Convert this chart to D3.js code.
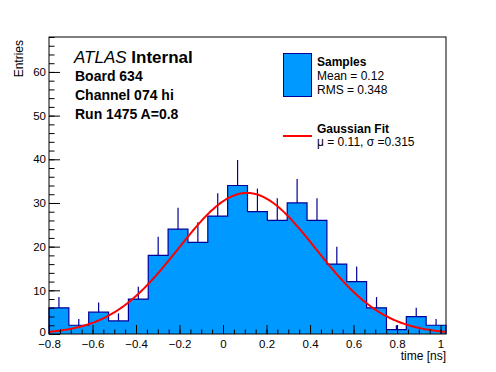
<!DOCTYPE html>
<html><head><meta charset="utf-8">
<script src="https://cdn.jsdelivr.net/npm/d3@7/dist/d3.min.js"></script>
<style>
body{margin:0;background:#fff}
svg{display:block}
text{font-family:"Liberation Sans",Arial,Helvetica,sans-serif;fill:#000}
</style>
</head><body>
<svg id="c" width="496" height="372"></svg>
<script>
// ---- data ----
const xRange = [-0.8, 1.025];
const yRange = [0, 68];
const counts = [6, 2, 5, 3, 8, 18, 24, 21, 27, 34, 28, 26, 30, 26, 16, 12, 6, 1, 4, 2];
const errors = [2.45, 1.41, 2.24, 1.73, 2.83, 4.24, 4.90, 4.58, 5.20, 5.83, 5.29, 5.10, 5.48, 5.10, 4.00, 3.46, 2.45, 1.00, 2.00, 1.41];
const xTickLabels = [-0.8, -0.6, -0.4, -0.2, 0, 0.2, 0.4, 0.6, 0.8, 1];
const yTickLabels = [0, 10, 20, 30, 40, 50, 60];
const fitParams = [32.3, 0.11, 0.315]; // constant, mu, sigma
const infoLines = ["Board 634", "Channel 074 hi", "Run 1475 A=0.8"];
const legendSamples = ["Samples", "Mean = 0.12", "RMS = 0.348"];
const legendFit = ["Gaussian Fit", "\u03bc = 0.11, \u03c3 =0.315"];

// ---- layout ----
const W = 496, H = 372;
const m = {l: 49, r: 50, t: 37, b: 38};
const pw = W - m.l - m.r, ph = H - m.t - m.b;
const fillCol = "#0099ff", lineCol = "#000099", red = "#ff0000";

const svg = d3.select("#c");
const g = svg.append("g").attr("transform", `translate(${m.l},${m.t})`);

const x = d3.scaleLinear().domain(xRange).range([0, pw]);
const y = d3.scaleLinear().domain(yRange).range([ph, 0]);

const nb = counts.length;
const bw = (xRange[1] - xRange[0]) / nb;
const bins = counts.map((c, i) => ({x0: xRange[0] + i * bw, x1: xRange[0] + (i + 1) * bw, c, e: errors[i]}));

// step points
const stepPts = [];
stepPts.push([xRange[0], 0]);
bins.forEach(d => { stepPts.push([d.x0, d.c]); stepPts.push([d.x1, d.c]); });
stepPts.push([xRange[1], 0]);
const stepLine = d3.line().x(p => x(p[0])).y(p => y(p[1]));

// fill as one shape
g.append("path").attr("d", stepLine(stepPts) + "Z").attr("fill", fillCol).attr("stroke", "none");

// error bars (upper part)
g.selectAll("line.err").data(bins).join("line")
  .attr("x1", d => x((d.x0 + d.x1) / 2)).attr("x2", d => x((d.x0 + d.x1) / 2))
  .attr("y1", d => y(d.c)).attr("y2", d => y(d.c + d.e))
  .attr("stroke", lineCol).attr("stroke-width", 1.2);

// outline
g.append("path").attr("d", stepLine(stepPts))
  .attr("fill", "none").attr("stroke", lineCol).attr("stroke-width", 1.2);

// gaussian fit
const [A, mu, sg] = fitParams;
const gauss = t => A * Math.exp(-0.5 * ((t - mu) / sg) ** 2);
const fx = d3.range(0, 301).map(i => xRange[0] + i * (xRange[1] - xRange[0]) / 300);
g.append("path")
  .attr("d", d3.line().x(t => x(t)).y(t => y(gauss(t)))(fx))
  .attr("fill", "none").attr("stroke", red).attr("stroke-width", 2);

// axes
const fmt = v => (v < 0 ? "\u2212" : "") + d3.format("")(Math.abs(v));
const xMinor = d3.range(-0.8, 1.0251, 0.05).map(v => +v.toFixed(3));
const yMinor = d3.range(0, 69, 2);

const xAxMin = g.append("g").attr("transform", `translate(0,${ph})`)
  .call(d3.axisBottom(x).tickValues(xMinor).tickSize(-4.5).tickFormat(""));
const xAx = g.append("g").attr("transform", `translate(0,${ph})`)
  .call(d3.axisBottom(x).tickValues(xTickLabels).tickSize(-9).tickPadding(4).tickFormat(fmt));
const yAxMin = g.append("g")
  .call(d3.axisLeft(y).tickValues(yMinor).tickSize(-5.5).tickFormat(""));
const yAx = g.append("g")
  .call(d3.axisLeft(y).tickValues(yTickLabels).tickSize(-11).tickPadding(3).tickFormat(fmt));
[xAxMin, xAx, yAxMin, yAx].forEach(a => {
  a.select(".domain").remove();
  a.selectAll("line").attr("stroke", "#000").attr("stroke-width", 1);
});
xAx.selectAll("text").attr("font-size", 11.5).attr("dy", null).attr("y", 0)
  .attr("transform", "translate(0,14)");
yAx.selectAll("text").attr("font-size", 11.5);
yAx.selectAll("text").filter(d => d === 0).attr("dy", "0.1em");

// frame
g.append("rect").attr("x", 0).attr("y", 0).attr("width", pw).attr("height", ph)
  .attr("fill", "none").attr("stroke", "#000").attr("stroke-width", 1);

// axis titles
svg.append("text").attr("x", W - m.r).attr("y", 360).attr("text-anchor", "end")
  .attr("font-size", 12).text("time [ns]");
svg.append("text").attr("transform", "translate(23,40) rotate(-90)")
  .attr("text-anchor", "end").attr("font-size", 12).text("Entries");

// ATLAS label
const at = svg.append("text").attr("x", 74).attr("y", 63).attr("font-size", 17);
at.append("tspan").attr("font-style", "italic").text("ATLAS");
at.append("tspan").attr("font-weight", "bold").text(" Internal");
svg.selectAll("text.info").data(infoLines).join("text")
  .attr("x", 75).attr("y", (d, i) => 81 + i * 19.2)
  .attr("font-size", 14).attr("font-weight", "bold").text(d => d);

// legend
svg.append("rect").attr("x", 283.5).attr("y", 53.5).attr("width", 28).attr("height", 43)
  .attr("fill", fillCol).attr("stroke", lineCol).attr("stroke-width", 1);
svg.selectAll("text.ls").data(legendSamples).join("text")
  .attr("x", 317).attr("y", (d, i) => [65.5, 80, 94][i])
  .attr("font-size", 12).attr("font-weight", (d, i) => i === 0 ? "bold" : null).text(d => d);
svg.append("line").attr("x1", 283).attr("x2", 312).attr("y1", 136).attr("y2", 136)
  .attr("stroke", red).attr("stroke-width", 2);
svg.selectAll("text.lf").data(legendFit).join("text")
  .attr("x", 317).attr("y", (d, i) => [133, 146][i])
  .attr("font-size", 12).attr("font-weight", (d, i) => i === 0 ? "bold" : null).text(d => d);
</script>
</body></html>
